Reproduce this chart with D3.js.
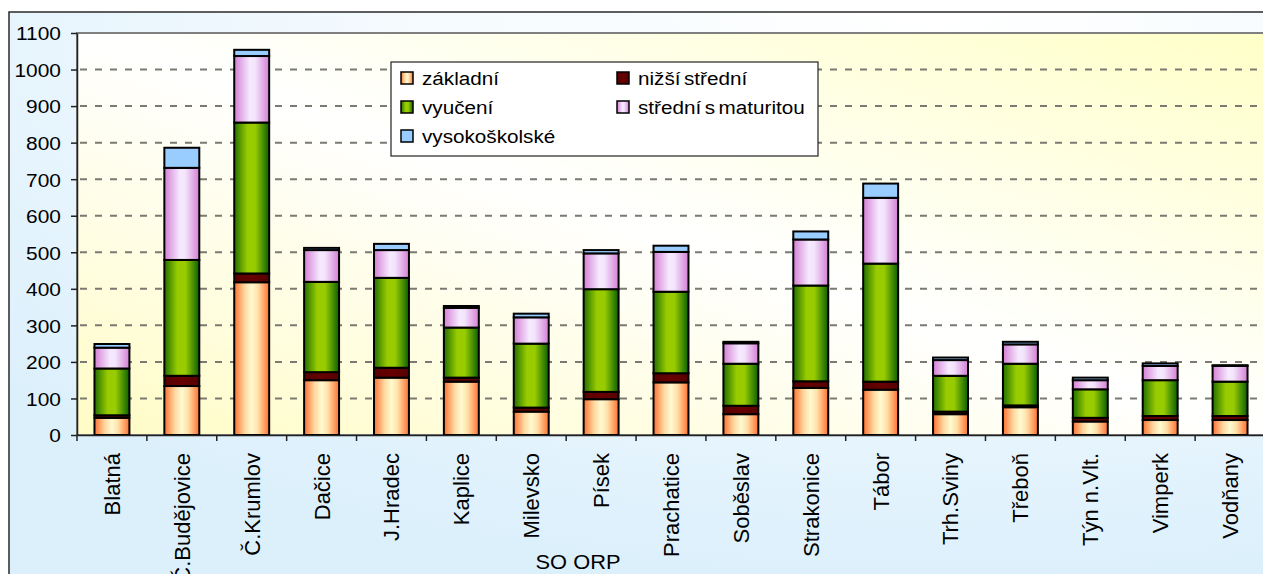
<!DOCTYPE html>
<html lang="cs">
<head>
<meta charset="UTF-8" />
<title>SO ORP - vzdělání</title>
<script src="https://cdn.jsdelivr.net/npm/d3@7"></script>
<style>
  body { margin: 0; background: #fff; }
  svg text { font-family: "Liberation Sans", Arial, sans-serif; font-size: 19.5px; fill: #000; }
  .item text { font-size: 18.8px; word-spacing: -2px; }
</style>
</head>
<body>
<script>
  // data
  var categories = ["Blatná", "Č.Budějovice", "Č.Krumlov", "Dačice", "J.Hradec", "Kaplice",
                    "Milevsko", "Písek", "Prachatice", "Soběslav", "Strakonice", "Tábor",
                    "Trh.Sviny", "Třeboň", "Týn n.Vlt.", "Vimperk", "Vodňany"];
  var seriesNames = ["základní", "nižší střední", "vyučení", "střední s maturitou", "vysokoškolské"];
  var zakladni = [47, 134, 418, 150, 157, 146, 64, 98, 144, 57, 129, 124, 57, 76, 37, 41, 41];
  var nizsiStredni = [7, 28, 24, 22, 27, 11, 11, 20, 25, 23, 18, 22, 7, 5, 10, 11, 11];
  var vyuceni = [128, 317, 413, 247, 246, 137, 175, 281, 223, 115, 262, 323, 98, 114, 78, 98, 94];
  var stredniMaturita = [57, 252, 182, 87, 76, 54, 72, 98, 109, 56, 126, 180, 43, 53, 25, 39, 43];
  var vysokoskolske = [10, 55, 17, 6, 17, 5, 10, 9, 17, 4, 22, 39, 7, 7, 7, 7, 2];
  var yTicks = [0, 100, 200, 300, 400, 500, 600, 700, 800, 900, 1000, 1100];
  var axisTitle = "SO ORP";

  var w = 1263, h = 574;
  var plot = { left: 77, top: 33, right: 1265, bottom: 435 };
  var sx = 1.12; // text in the original is a bit wide

  var table = categories.map(function(c, i) {
    return {
      cat: c,
      "základní": zakladni[i],
      "nižší střední": nizsiStredni[i],
      "vyučení": vyuceni[i],
      "střední s maturitou": stredniMaturita[i],
      "vysokoškolské": vysokoskolske[i]
    };
  });
  var stacked = d3.stack().keys(seriesNames)(table);

  var svg = d3.select("body").append("svg")
    .attr("width", w)
    .attr("height", h);

  var defs = svg.append("defs");

  // outer background: white top right, light blue elsewhere
  var bg = defs.append("radialGradient").attr("id", "outerBg")
    .attr("cx", 0.72).attr("cy", 0).attr("r", 0.95);
  bg.append("stop").attr("offset", 0).attr("stop-color", "#ffffff");
  bg.append("stop").attr("offset", 0.45).attr("stop-color", "#f4fafe");
  bg.append("stop").attr("offset", 1).attr("stop-color", "#dcf0fc");

  // plot area: yellow corners, white diagonal
  var pg = defs.append("linearGradient").attr("id", "plotBg")
    .attr("x1", 0).attr("y1", 1).attr("x2", 1).attr("y2", 0);
  pg.append("stop").attr("offset", 0).attr("stop-color", "#fffcc6");
  pg.append("stop").attr("offset", 0.5).attr("stop-color", "#ffffff");
  pg.append("stop").attr("offset", 1).attr("stop-color", "#ffffc8");

  var barStops = {
    "základní": [[0, "#ff7030"], [0.3, "#ffd8a0"], [0.5, "#fffad0"], [0.68, "#ffe0a8"], [1, "#ff7030"]],
    "nižší střední": [[0, "#560000"], [0.5, "#680000"], [1, "#560000"]],
    "vyučení": [[0, "#237000"], [0.38, "#99cc00"], [0.6, "#99cc00"], [1, "#0a6000"]],
    "střední s maturitou": [[0, "#d47fd4"], [0.45, "#f6eaff"], [0.6, "#f3e4fc"], [1, "#d47fd4"]],
    "vysokoškolské": [[0, "#99ccff"], [1, "#99ccff"]]
  };

  seriesNames.forEach(function(name, i) {
    var g = defs.append("linearGradient").attr("id", "grad" + i)
      .attr("x1", 0).attr("y1", 0).attr("x2", 1).attr("y2", 0);
    barStops[name].forEach(function(s) {
      g.append("stop").attr("offset", s[0]).attr("stop-color", s[1]);
    });
  });

  svg.append("rect")
    .attr("x", 9).attr("y", 12)
    .attr("width", w + 20).attr("height", h + 20)
    .attr("fill", "url(#outerBg)")
    .attr("stroke", "#2a2a2a")
    .attr("stroke-width", 1.5);

  svg.append("rect")
    .attr("x", plot.left).attr("y", plot.top)
    .attr("width", plot.right - plot.left).attr("height", plot.bottom - plot.top)
    .attr("fill", "url(#plotBg)")
    .attr("stroke", "#808080")
    .attr("stroke-width", 2);

  var xScale = d3.scaleBand()
    .domain(categories)
    .range([plot.left, plot.right])
    .paddingInner(0.5)
    .paddingOuter(0.25);

  var yScale = d3.scaleLinear()
    .domain([0, 1100])
    .range([plot.bottom, plot.top]);

  // dashed gridlines
  svg.append("g")
    .selectAll("line")
    .data(yTicks.filter(function(d) { return d > 0 && d < 1100; }))
    .enter()
    .append("line")
    .attr("x1", plot.left).attr("x2", plot.right)
    .attr("y1", function(d) { return yScale(d); })
    .attr("y2", function(d) { return yScale(d); })
    .attr("stroke", "#7a7a72")
    .attr("stroke-width", 2)
    .attr("stroke-dasharray", "7,8")
    .attr("stroke-dashoffset", -3);

  // bars
  svg.append("g")
    .selectAll("g")
    .data(stacked)
    .enter()
    .append("g")
    .attr("fill", function(d, i) { return "url(#grad" + i + ")"; })
    .selectAll("rect")
    .data(function(d) { return d; })
    .enter()
    .append("rect")
    .attr("x", function(d) { return xScale(d.data.cat); })
    .attr("width", xScale.bandwidth())
    .attr("y", function(d) { return yScale(d[1]); })
    .attr("height", function(d) { return yScale(d[0]) - yScale(d[1]); })
    .attr("stroke", "#000")
    .attr("stroke-width", 2);

  // y axis
  var yAxis = d3.axisLeft(yScale)
    .tickValues(yTicks)
    .tickFormat(d3.format("d"))
    .tickSize(6)
    .tickSizeOuter(0);

  var yg = svg.append("g")
    .attr("transform", "translate(" + plot.left + ",0)")
    .call(yAxis);
  yg.select(".domain").attr("stroke", "#222").attr("stroke-width", 1.5);
  yg.selectAll(".tick line").attr("stroke", "#222").attr("stroke-width", 1.5);
  yg.selectAll(".tick text")
    .attr("x", null)
    .attr("dy", "0.36em")
    .attr("transform", "translate(-16,0) scale(1.1,1)")
    .style("font-size", "19px")
    .style("font-family", null);

  // x axis: labels at band centres, ticks at band boundaries
  var xAxis = d3.axisBottom(xScale).tickSize(0).tickSizeOuter(0);
  var xg = svg.append("g")
    .attr("transform", "translate(0," + plot.bottom + ")")
    .call(xAxis);
  xg.select(".domain").attr("stroke", "#222").attr("stroke-width", 1.5);
  xg.selectAll(".tick text")
    .attr("x", 0).attr("y", 0)
    .attr("dy", "0.36em")
    .attr("transform", "translate(0,18) rotate(-90)")
    .style("text-anchor", "end")
    .style("font-size", "22px")
    .style("font-family", null);

  svg.append("g")
    .selectAll("line")
    .data(d3.range(categories.length + 1))
    .enter()
    .append("line")
    .attr("x1", function(i) { return plot.left + i * xScale.step(); })
    .attr("x2", function(i) { return plot.left + i * xScale.step(); })
    .attr("y1", plot.bottom)
    .attr("y2", plot.bottom + 6)
    .attr("stroke", "#222")
    .attr("stroke-width", 1.5);

  // axis title
  svg.append("text")
    .attr("transform", "translate(578,569) scale(" + sx + ",1)")
    .attr("text-anchor", "middle")
    .text(axisTitle);

  // legend
  var legend = svg.append("g");
  legend.append("rect")
    .attr("x", 391).attr("y", 62)
    .attr("width", 427).attr("height", 94)
    .attr("fill", "#fff")
    .attr("stroke", "#222")
    .attr("stroke-width", 1.2);

  var legendPos = [[401, 78], [617, 78], [401, 107], [617, 107], [401, 136]];
  var items = legend.selectAll("g.item")
    .data(seriesNames)
    .enter()
    .append("g")
    .attr("class", "item")
    .attr("transform", function(d, i) {
      return "translate(" + legendPos[i][0] + "," + legendPos[i][1] + ")";
    });
  items.append("rect")
    .attr("x", 0).attr("y", -6)
    .attr("width", 12).attr("height", 12)
    .attr("fill", function(d, i) { return "url(#grad" + i + ")"; })
    .attr("stroke", "#000")
    .attr("stroke-width", 1.5);
  items.append("text")
    .attr("transform", "translate(21,0) scale(1.1,1)")
    .attr("dy", "0.36em")
    .text(function(d) { return d; });
</script>
</body>
</html>
